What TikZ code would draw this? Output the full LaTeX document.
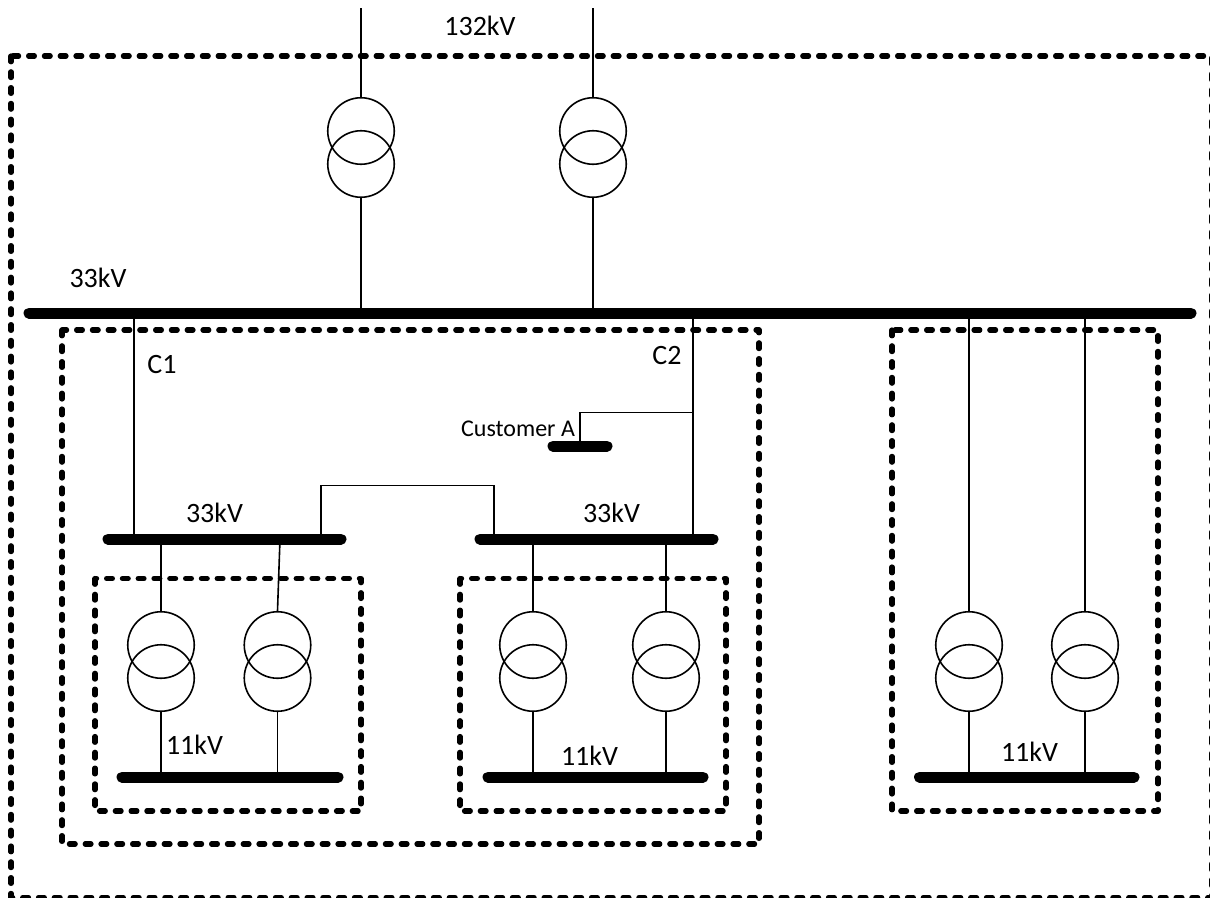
\documentclass[tikz,border=0pt]{standalone}
\usepackage{fontspec}
\setmainfont{Carlito}
\tikzset{
  wire/.style={draw=black,line width=1.6pt},
  winding/.style={circle,draw=black,line width=1.6pt,minimum size=66.5pt,inner sep=0pt},
  busbar/.style={draw=black,line width=11pt,line cap=round},
  zone/.style={draw=black,line width=5.2pt,line cap=round,line join=round,dash pattern=on 5.8pt off 10pt},
  lbl/.style={font=\fontsize{28}{30}\selectfont,inner sep=0pt,text=black},
  lblsmall/.style={font=\fontsize{24}{28}\selectfont,inner sep=0pt,text=black}
}
\begin{document}
\begin{tikzpicture}[x=1pt,y=-1pt]
\useasboundingbox (0,0) rectangle (1210,897);
\clip (0,0) rectangle (1210,897);
% zones
\draw[zone] (11,56) rectangle (1211.5,897.5);
\draw[zone] (62,330) rectangle (759,844);
\draw[zone] (95,578.5) rectangle (361,811);
\draw[zone] (460,578.5) rectangle (726,811);
\draw[zone] (892,330) rectangle (1158,811);
% bus tap points
\coordinate (busLa) at (29,313);   \coordinate (busLb) at (1191,313);
\coordinate (tap1) at (361,313);   \coordinate (tap2) at (593,313);
\coordinate (tapC1) at (134,313);  \coordinate (tapC2) at (693,313);
\coordinate (tapR1) at (969,313);  \coordinate (tapR2) at (1085,313);
\coordinate (in1) at (361,8);      \coordinate (in2) at (593,8);
\coordinate (b1a) at (108,539);    \coordinate (b1b) at (341,539);
\coordinate (b2a) at (480,539);    \coordinate (b2b) at (713,539);
\coordinate (c1end) at (134,539);  \coordinate (c2end) at (693,539);
\coordinate (tieA) at (321,539);   \coordinate (tieB) at (321,485.5);
\coordinate (tieC) at (494,485.5); \coordinate (tieD) at (494,539);
\coordinate (custA) at (553,446);  \coordinate (custB) at (607,446);
\coordinate (custT) at (580,446);  \coordinate (custU) at (580,412.5);
\coordinate (custV) at (693,412.5);
\coordinate (t1in) at (161,539);   \coordinate (t2in) at (280,539);
\coordinate (t3in) at (533,539);   \coordinate (t4in) at (666,539);
\coordinate (l1a) at (122,777);    \coordinate (l1b) at (338,777);
\coordinate (l2a) at (488,777);    \coordinate (l2b) at (703,777);
\coordinate (l3a) at (919.5,777);  \coordinate (l3b) at (1134,777);
\coordinate (o1) at (161,777);     \coordinate (o2) at (277.5,777);
\coordinate (o3) at (533,777);     \coordinate (o4) at (666,777);
\coordinate (o5) at (969,777);     \coordinate (o6) at (1085,777);
% transformers
\node[winding] (A1) at (361,131) {}; \node[winding] (A2) at (361,164) {};
\node[winding] (B1) at (593,131) {}; \node[winding] (B2) at (593,164) {};
\node[winding] (C1) at (161,645) {}; \node[winding] (C2) at (161,678) {};
\node[winding] (D1) at (277.5,645) {}; \node[winding] (D2) at (277.5,678) {};
\node[winding] (E1) at (533,645) {}; \node[winding] (E2) at (533,678) {};
\node[winding] (F1) at (666,645) {}; \node[winding] (F2) at (666,678) {};
\node[winding] (G1) at (969,645) {}; \node[winding] (G2) at (969,678) {};
\node[winding] (H1) at (1085,645) {}; \node[winding] (H2) at (1085,678) {};
% connectors
\draw[wire] (in1) -- (A1.north);  \draw[wire] (A2.south) -- (tap1);
\draw[wire] (in2) -- (B1.north);  \draw[wire] (B2.south) -- (tap2);
\draw[wire] (tapC1) -- (c1end);   \draw[wire] (tapC2) -- (c2end);
\draw[wire] (tapR1) -- (G1.north); \draw[wire] (tapR2) -- (H1.north);
\draw[wire] (tieA) -- (tieB) -- (tieC) -- (tieD);
\draw[wire] (custT) -- (custU) -- (custV);
\draw[wire] (t1in) -- (C1.north); \draw[wire] (t2in) -- (D1.north);
\draw[wire] (t3in) -- (E1.north); \draw[wire] (t4in) -- (F1.north);
\draw[wire] (C2.south) -- (o1); \draw[wire] (D2.south) -- (o2);
\draw[wire] (E2.south) -- (o3); \draw[wire] (F2.south) -- (o4);
\draw[wire] (G2.south) -- (o5); \draw[wire] (H2.south) -- (o6);
% busbars
\draw[busbar] (busLa) -- (busLb);
\draw[busbar] (b1a) -- (b1b);
\draw[busbar] (b2a) -- (b2b);
\draw[busbar] (custA) -- (custB);
\draw[busbar] (l1a) -- (l1b);
\draw[busbar] (l2a) -- (l2b);
\draw[busbar] (l3a) -- (l3b);
% labels
\node[lbl] (v132) at (480,26) {132kV};
\node[lbl] (v33a) at (98,278) {33kV};
\node[lbl] (v33b) at (214.5,513) {33kV};
\node[lbl] (v33c) at (611.5,513) {33kV};
\node[lbl] (v11a) at (194.5,745) {11kV};
\node[lbl] (v11b) at (589.5,756) {11kV};
\node[lbl] (v11c) at (1029.5,752) {11kV};
\node[lbl] (lc1) at (162,365) {C1};
\node[lbl] (lc2) at (667,356) {C2};
\node[lblsmall] (cust) at (518,429) {Customer A};
\end{tikzpicture}
\end{document}
